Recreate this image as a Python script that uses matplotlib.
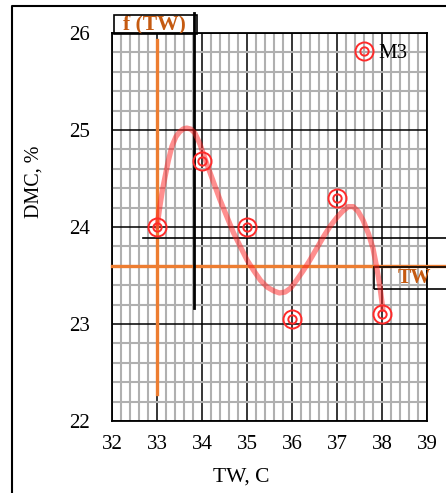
import matplotlib
matplotlib.use("Agg")
import matplotlib.pyplot as plt
from matplotlib.lines import Line2D
from matplotlib.patches import Rectangle
from matplotlib.ticker import MultipleLocator

# measured points (M3)
tw = [33, 34, 35, 36, 37, 38]
dmc = [24.0, 24.68, 24.0, 23.05, 24.3, 23.1]

# fitted curve
fit_tw = [33.0, 33.06, 33.12, 33.18, 33.25, 33.33, 33.42, 33.5, 33.58, 33.66,
          33.75, 33.84, 33.95, 34.1, 34.25, 34.4, 34.55, 34.7, 34.85, 35.0,
          35.15, 35.3, 35.45, 35.6, 35.72, 35.85, 35.97, 36.1, 36.25, 36.4,
          36.55, 36.7, 36.85, 37.0, 37.12, 37.25, 37.36, 37.47, 37.58, 37.7,
          37.8, 37.88, 37.95, 38.02]
fit_dmc = [24.0, 24.2, 24.38, 24.52, 24.68, 24.83, 24.93, 24.98, 25.01, 25.02,
           25.01, 24.97, 24.86, 24.66, 24.47, 24.28, 24.11, 23.94, 23.8, 23.66,
           23.55, 23.45, 23.38, 23.34, 23.32, 23.33, 23.37, 23.45, 23.55, 23.66,
           23.78, 23.9, 24.01, 24.1, 24.16, 24.21, 24.21, 24.16, 24.07, 23.93,
           23.78, 23.59, 23.4, 23.15]

x_ticks = [32, 33, 34, 35, 36, 37, 38, 39]
y_ticks = [22, 23, 24, 25, 26]

# reference lines
f_tw = 33.0        # orange vertical
tw_level = 23.6    # orange horizontal
black_x = 33.82
black_y = 23.89

plt.rcParams["font.family"] = "Liberation Serif"
plt.rcParams["font.size"] = 15

W, H = 446, 493
fig = plt.figure(figsize=(W / 100, H / 100), dpi=100)
ax = fig.add_axes([112 / W, (H - 421) / H, 315 / W, 388 / H])

ax.set_xlim(32, 39)
ax.set_ylim(22, 26)
ax.set_xticks(x_ticks)
ax.set_yticks(y_ticks)
ax.xaxis.set_minor_locator(MultipleLocator(0.2))
ax.yaxis.set_minor_locator(MultipleLocator(0.2))
ax.grid(which="minor", color="#b0b0b0", linewidth=1.5, zorder=0)
ax.grid(which="major", color="black", linewidth=1.1, zorder=1)
ax.set_axisbelow(True)
ax.tick_params(which="both", length=0)
ax.tick_params(axis="y", pad=16, labelsize=15)
ax.tick_params(axis="x", pad=10, labelsize=15)
for s in ax.spines.values():
    s.set_linewidth(1.3)

ax.set_xlabel("TW, C", fontsize=15.5)
ax.set_ylabel("DMC, %", fontsize=14.5)
ax.xaxis.set_label_coords((241 - 112) / 315, -(468 - 421) / 388)
ax.yaxis.set_label_coords(-(112 - 44) / 315, (421 - 182) / 388)

orange = "#ed7d31"
text_orange = "#c55a11"

# reference lines
ax.plot([f_tw, f_tw], [22.28, 25.93], color=orange, lw=2.4, zorder=3)
ax.plot([32, 39.45], [tw_level, tw_level], color=orange, lw=2.4, zorder=3, clip_on=False)
ax.plot([black_x, black_x], [23.17, 26.21], color="black", lw=2.0, zorder=3, clip_on=False)
ax.plot([32.69, 39.45], [black_y, black_y], color="black", lw=1.2, zorder=3, clip_on=False)

# label boxes
ax.add_patch(Rectangle((32.04, 25.99), 33.89 - 32.04, 0.2, fill=False, ec="black",
                       lw=1.2, clip_on=False, zorder=4))
ax.text(32.95, 26.09, "f (TW)", color=text_orange, fontweight="bold", fontsize=15.5,
        ha="center", va="center", clip_on=False)
ax.add_patch(Rectangle((37.82, 23.36), 1.7, 0.23, fill=False, ec="black",
                       lw=1.2, clip_on=False, zorder=4))
ax.text(38.73, 23.47, "TW", color=text_orange, fontweight="bold", fontsize=14.5,
        ha="center", va="center", clip_on=False)

# curve and points
ax.plot(fit_tw, fit_dmc, color="#ff2020", alpha=0.5, lw=3.8,
        solid_capstyle="round", solid_joinstyle="round", zorder=5)
outer, = ax.plot(tw, dmc, ls="none", marker="o", ms=13, mfc="none",
                 mec="#ff2a2a", mew=1.4, zorder=6)
inner, = ax.plot(tw, dmc, ls="none", marker="o", ms=6, mfc="none",
                 mec="#ff2a2a", mew=1.4, zorder=6)

ax.legend([(outer, inner)], ["M3"], loc="center left",
          bbox_to_anchor=((349 - 112) / 315, (421 - 53) / 388),
          frameon=False, borderpad=0, borderaxespad=0, handlelength=1.4,
          handletextpad=0.0, fontsize=15)

# outer frame (cropped)
fig.add_artist(Line2D([12 / W, 12 / W, 1.0], [0, (H - 6) / H, (H - 6) / H],
                      transform=fig.transFigure, color="black", lw=1.5))

fig.savefig("out.png", dpi=100)
